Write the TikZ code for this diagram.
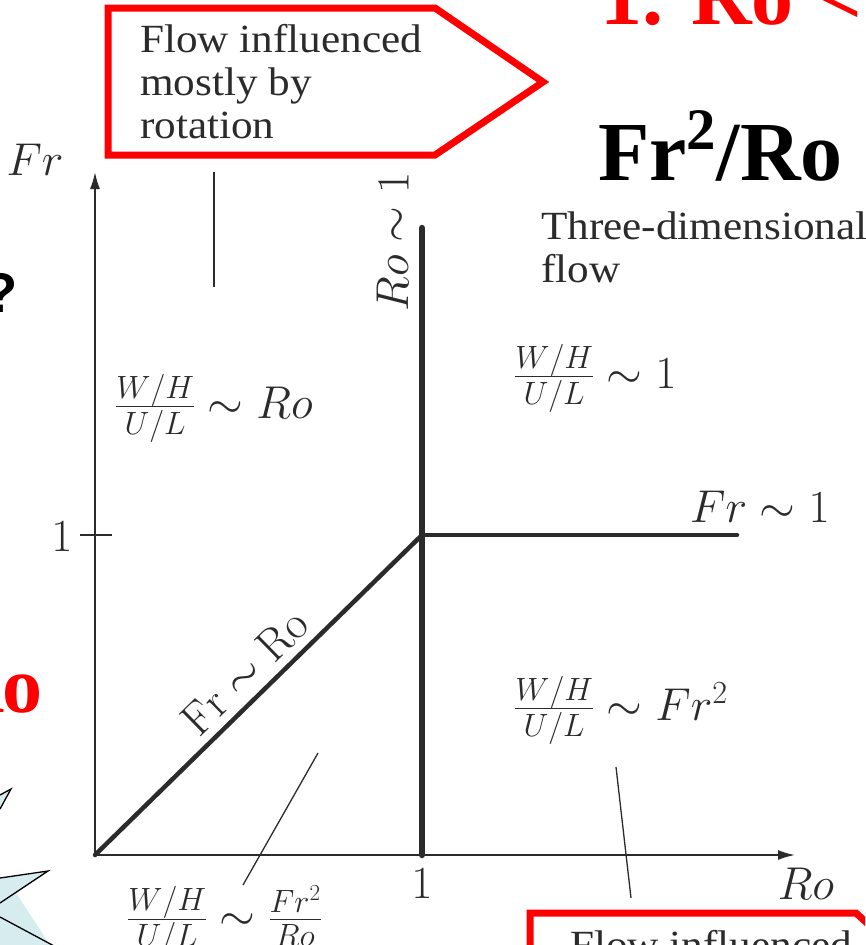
\RequirePackage{fix-cm}
\documentclass[tikz,border=0pt]{standalone}
\usepackage{fontspec}
\newfontfamily\serifbox[FakeStretch=1.08]{Liberation Serif}
\newfontfamily\serifbig{Liberation Serif}
\newfontfamily\sansq{Liberation Sans}
\usepackage{xcolor}
\usetikzlibrary{arrows.meta,positioning,calc}
\definecolor{figgray}{HTML}{2B2B2B}
\definecolor{slidered}{HTML}{FF0000}
\definecolor{starblue}{HTML}{D6ECEF}

\begin{document}
\begin{tikzpicture}[x=1pt,y=-1pt,
  axis/.style={draw=figgray, line width=1.8pt},
  axisarrow/.style={axis, -{Latex[length=17pt,width=10pt]}},
  regime/.style={draw=figgray, line width=4.5pt, line cap=round},
  leader/.style={draw=figgray, line width=1.3pt},
  mlab/.style={text=figgray, inner sep=0pt, font=\fontsize{46}{52}\selectfont},
  tlab/.style={text=figgray, inner sep=0pt, align=left, font=\serifbox\fontsize{40}{43}\selectfont},
  callout/.style={draw=slidered, line width=7pt, line join=miter},
  bigtitle/.style={inner sep=0pt, font=\serifbig\bfseries\fontsize{84}{90}\selectfont}
]
\useasboundingbox (0,0) rectangle (865,945);
\clip (0,0) rectangle (865,945);

\coordinate (O) at (95,855);
\coordinate (ytop) at (95,172);
\coordinate (xend) at (795,855);
\coordinate (P) at (422,535);
\coordinate (vtop) at (422,228);
\coordinate (vbot) at (422,855);
\coordinate (hend) at (737,535);
\coordinate (tickl) at (80,535);
\coordinate (tickr) at (112,535);

% slide parts around the figure
\fill[starblue] (0,795) -- (11,789) -- (0,809) -- cycle;
\fill[starblue] (0,878) -- (48,871) -- (16,893) -- (50,945) -- (0,945) -- cycle;
\draw[black, line width=1.3pt] (0,795) -- (11,789) -- (0,809);
\draw[black, line width=1.3pt] (0,878) -- (48,871) -- (0,903);
\draw[black, line width=1.3pt] (0,917) -- (56,947);

\node[bigtitle, text=slidered, anchor=base west] (title) at (600,24) {1. Ro <};
\node[bigtitle, anchor=base west] (ratio) at (598,180) {Fr\textsuperscript{2}/Ro};
\node[inner sep=0pt, anchor=base east, font=\sansq\bfseries\fontsize{56}{60}\selectfont] (quest) at (18,312) {?};
\node[bigtitle, text=slidered, anchor=base east, font=\serifbig\bfseries\fontsize{80}{84}\selectfont] (rored) at (43,712) {Ro};

% callouts
\draw[callout] (108,8) -- (435,8) -- (543,82) -- (435,155) -- (108,155) -- cycle;
\node[tlab, anchor=north west] (rotbox) at (140,24) {Flow influenced\\mostly by\\rotation};
\draw[callout] (530,990) -- (530,913) -- (856,913) -- (880,935);
\node[tlab, anchor=base west] (stratbox) at (570,958) {Flow influenced};

% regime diagram
\draw[axisarrow] (O) -- (ytop);
\draw[axisarrow] (O) -- (xend);
\draw[axis] (tickl) -- (tickr);
\draw[regime] (O) -- (P);
\draw[regime] (P) -- (hend);
\draw[regime, line width=6.5pt] (vbot) -- (vtop);

\node[mlab] (frax) at (35,160) {$Fr$};
\node[mlab] (roax) at (806,884) {$Ro$};
\node[mlab] (oney) at (62,537) {$1$};
\node[mlab] (onex) at (422,884) {$1$};
\node[mlab, rotate=90] (rocrit) at (393,242) {$Ro\sim 1$};
\node[mlab, rotate=44.4] (frro) at (245,672) {$\mathrm{Fr}\sim\mathrm{Ro}$};
\node[mlab, anchor=west] (frcrit) at (690,507) {$Fr\sim 1$};

\node[mlab, anchor=west] (wro) at (115,408) {$\frac{W/H}{U/L}\sim Ro$};
\node[mlab, anchor=west] (wone) at (514,378) {$\frac{W/H}{U/L}\sim 1$};
\node[mlab, anchor=west] (wfr) at (514,710) {$\frac{W/H}{U/L}\sim Fr^2$};
\node[mlab, anchor=west] (wfrro) at (127,920) {$\frac{W/H}{U/L}\sim \frac{Fr^2}{Ro}$};
\node[tlab, anchor=north west] (threed) at (541,212) {Three-dimensional\\flow};

\coordinate (la) at (214,172);
\coordinate (lb) at (214,287);
\coordinate (lc) at (318,753);
\coordinate (ld) at (243,885);
\coordinate (le) at (616,767);
\coordinate (lf) at (631,898);
\draw[leader] (la) -- (lb);
\draw[leader] (lc) -- (ld);
\draw[leader] (le) -- (lf);
\end{tikzpicture}
\end{document}
